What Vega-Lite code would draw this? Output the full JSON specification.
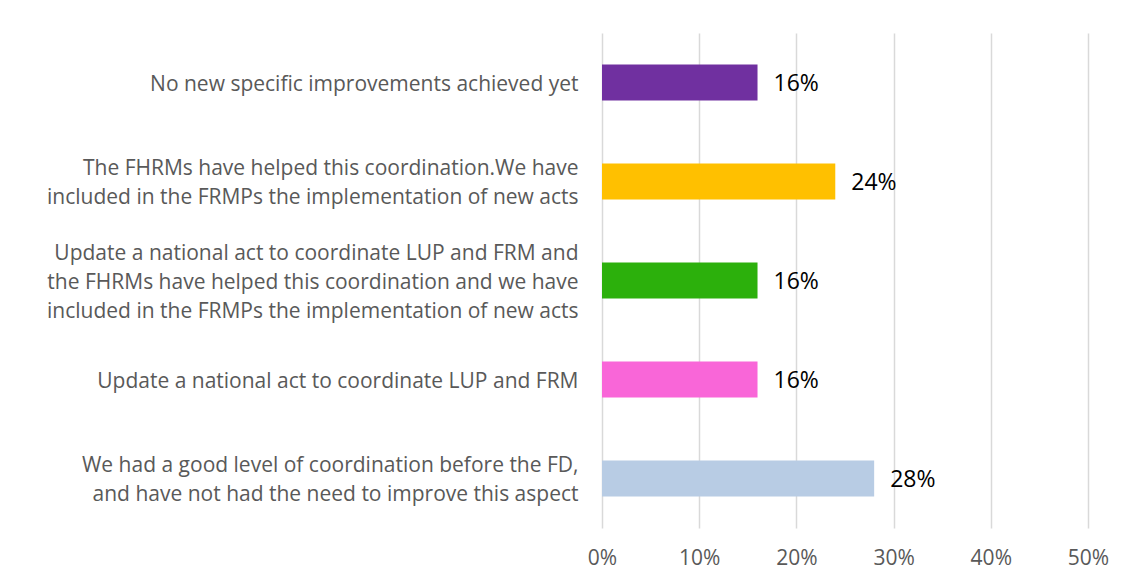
{
  "$schema": "https://vega.github.io/schema/vega-lite/v6.json",
  "autosize": {"type": "none"},
  "padding": {"left": 602, "top": 33, "right": 41, "bottom": 59},
  "width": 486,
  "height": 495,
  "background": "white",
  "config": {
    "view": {"stroke": null},
    "font": "Open Sans"
  },
  "data": {
    "values": [
      {"order": 1, "label": "No new specific improvements achieved yet", "value": 0.16, "color": "#7030A0"},
      {"order": 2, "label": "The FHRMs have helped this coordination.We have|included in the FRMPs the implementation of new acts", "value": 0.24, "color": "#FFC000"},
      {"order": 3, "label": "Update a national act to coordinate LUP and FRM and|the FHRMs have helped this coordination and we have|included in the FRMPs the implementation of new acts", "value": 0.16, "color": "#2CB00C"},
      {"order": 4, "label": "Update a national act to coordinate LUP and FRM", "value": 0.16, "color": "#F966D8"},
      {"order": 5, "label": "We had a good level of coordination before the FD,|and have not had the need to improve this aspect", "value": 0.28, "color": "#B8CCE4"}
    ]
  },
  "encoding": {
    "y": {
      "field": "label",
      "type": "nominal",
      "sort": {"field": "order", "order": "ascending"},
      "scale": {"paddingInner": 0.636, "paddingOuter": 0.318},
      "axis": {
        "title": null,
        "domain": false,
        "ticks": false,
        "labelExpr": "split(datum.label, '|')",
        "labelFontSize": 21,
        "labelColor": "#595959",
        "labelPadding": 24,
        "labelLimit": 600,
        "labelLineHeight": 29,
        "labelOffset": {
          "condition": [
            {"test": "length(split(datum.value, '|')) == 3", "value": -27},
            {"test": "length(split(datum.value, '|')) == 2", "value": -12.5}
          ],
          "value": 2
        }
      }
    },
    "x": {
      "field": "value",
      "type": "quantitative",
      "scale": {"domain": [0, 0.5], "nice": false},
      "axis": {
        "title": null,
        "format": ".0%",
        "values": [0, 0.1, 0.2, 0.3, 0.4, 0.5],
        "domain": false,
        "ticks": false,
        "grid": true,
        "gridColor": "#D9D9D9",
        "gridWidth": 1.5,
        "labelFontSize": 21,
        "labelColor": "#595959",
        "labelPadding": 19,
        "labelFlush": false
      }
    }
  },
  "layer": [
    {
      "mark": {"type": "bar"},
      "encoding": {
        "color": {"field": "color", "type": "nominal", "scale": null}
      }
    },
    {
      "mark": {"type": "text", "align": "left", "baseline": "middle", "dx": 16, "dy": 1, "fontSize": 23, "color": "#000000"},
      "encoding": {
        "text": {"field": "value", "type": "quantitative", "format": ".0%"}
      }
    }
  ]
}
